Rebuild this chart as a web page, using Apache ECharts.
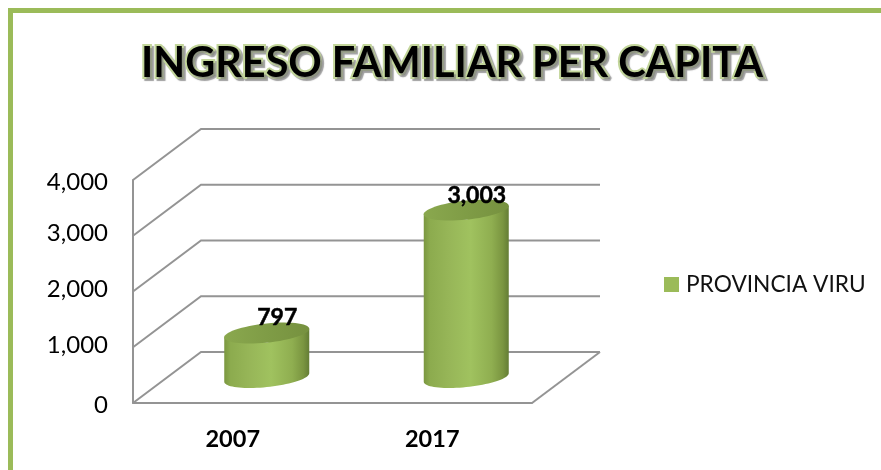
<!DOCTYPE html>
<html><head><meta charset="utf-8">
<style>html,body{margin:0;padding:0;background:#fff}#c{width:881px;height:470px}</style>
<script src="https://cdn.jsdelivr.net/npm/echarts@6/dist/echarts.min.js"></script>
</head><body><div id="c"></div>
<script>
const titleText = 'INGRESO FAMILIAR PER CAPITA';
const seriesName = 'PROVINCIA VIRU';
const categories = ['2007', '2017'];
const values = [797, 3003];
const valueTicks = [0, 1000, 2000, 3000, 4000];
const tickLabels = ['0', '1,000', '2,000', '3,000', '4,000'];
const valueLabels = ['797', '3,003'];

const FONT = 'Lato, "Open Sans", sans-serif';
const DX = 68, DY = -51;
const LINE = '#949494';
const chart = echarts.init(document.getElementById('c'), null, {renderer: 'canvas'});

function wallRender(params, api) {
  const p = api.coord([0, api.value(0)]);
  const cs = params.coordSys;
  const x0 = cs.x, w = cs.width, y = p[1];
  const style = {stroke: LINE, lineWidth: 2, fill: null};
  const children = [{
    type: 'polyline',
    shape: {points: [[x0, y], [x0 + DX, y + DY], [x0 + w + DX, y + DY]]},
    style
  }];
  if (params.dataIndex === 0) {
    children.push({
      type: 'line',
      shape: {x1: x0 + w, y1: y, x2: x0 + w + DX, y2: y + DY},
      style
    });
  }
  return {type: 'group', children};
}

function ellipsePts(cx, cy, rx, ry, slope, t0, t1, n) {
  const pts = [];
  for (let i = 0; i <= n; i++) {
    const t = t0 + (t1 - t0) * i / n;
    const c = Math.cos(t), s = Math.sin(t);
    pts.push([cx + rx * c, cy - slope * rx * c + ry * s]);
  }
  return pts;
}

function cylRender(params, api) {
  const i = api.value(0), v = api.value(1);
  const b = api.coord([i, 0]), t = api.coord([i, v]);
  const cx = b[0] + DX / 2, by = b[1] + DY / 2, ty = t[1] + DY / 2;
  const rx = 42.5, ry = 9.6, sl = 0.1;
  const body = ellipsePts(cx, by, rx, ry, sl, Math.PI, 0, 40)
    .concat(ellipsePts(cx, ty, rx, ry, sl, 0, Math.PI, 2));
  const top = ellipsePts(cx, ty, rx, ry, sl, 0, Math.PI * 2, 60);
  return {
    type: 'group',
    children: [
      {
        type: 'polygon', shape: {points: body},
        style: {
          fill: new echarts.graphic.LinearGradient(0, 0, 1, 0, [
            {offset: 0, color: '#7b9740'},
            {offset: 0.07, color: '#8cab4e'},
            {offset: 0.3, color: '#97b658'},
            {offset: 0.55, color: '#a0c25f'},
            {offset: 0.8, color: '#8fae50'},
            {offset: 0.93, color: '#7a9540'},
            {offset: 1, color: '#647d35'}
          ])
        }
      },
      {
        type: 'polygon', shape: {points: top},
        style: {
          fill: new echarts.graphic.LinearGradient(0, 0, 1, 0, [
            {offset: 0, color: '#8aa84e'},
            {offset: 0.5, color: '#7f9c46'},
            {offset: 1, color: '#76913f'}
          ])
        }
      },
      {
        type: 'text',
        style: {
          x: cx + 10.5, y: ty - 15, text: valueLabels[params.dataIndex],
          align: 'center', verticalAlign: 'middle', fill: '#000',
          stroke: '#000', lineWidth: 0.5,
          font: 'bold 23px ' + FONT
        }
      }
    ]
  };
}

chart.setOption({
  animation: false,
  backgroundColor: '#fff',
  title: {
    text: titleText, left: 141, top: 43, padding: 0,
    textStyle: {
      fontFamily: FONT, fontSize: 41.4, fontWeight: 'bold', color: '#000',
      textBorderColor: '#c3d69b', textBorderWidth: 4,
      textShadowColor: 'rgba(120,120,120,0.7)', textShadowBlur: 1,
      textShadowOffsetX: 2, textShadowOffsetY: 2
    }
  },
  legend: {
    left: 664, top: 273, padding: 0, itemWidth: 15, itemHeight: 15, itemGap: 0,
    data: [{name: seriesName, icon: 'rect', itemStyle: {color: '#9bbb59'}}],
    textStyle: {fontFamily: FONT, fontSize: 22.7, color: '#111', padding: [0, 0, 0, 2]}
  },
  grid: {left: 133, top: 180, width: 399, height: 223, containLabel: false},
  xAxis: {
    type: 'category', data: categories,
    axisLine: {lineStyle: {color: LINE, width: 2}},
    axisTick: {show: false},
    axisLabel: {margin: 24, fontFamily: FONT, fontSize: 23.5, fontWeight: 'bold', color: '#000'}
  },
  yAxis: {
    type: 'value', min: 0, max: 4000, interval: 1000,
    axisLine: {show: true, lineStyle: {color: LINE, width: 2}},
    axisTick: {show: false},
    splitLine: {show: false},
    axisLabel: {
      margin: 25, fontFamily: FONT, fontSize: 24, color: '#000',
      formatter: (v) => {
        const s = tickLabels[valueTicks.indexOf(v)];
        return (v === 0 || v === 4000) ? '{a|' + s + '}' : '{b|' + s + '}';
      },
      rich: {
        a: {fontFamily: FONT, fontSize: 24, color: '#000', padding: [4, 0, 0, 0]},
        b: {fontFamily: FONT, fontSize: 24, color: '#000', padding: [0, 0, 4, 0]}
      }
    }
  },
  series: [
    {
      type: 'custom', name: 'walls', coordinateSystem: 'cartesian2d', z: 1, silent: true,
      data: valueTicks.map(v => [v]), encode: {y: 0}, renderItem: wallRender, clip: false
    },
    {
      type: 'custom', name: seriesName, coordinateSystem: 'cartesian2d', z: 3,
      itemStyle: {color: '#9bbb59'},
      data: values.map((v, i) => [i, v]), encode: {x: 0, y: 1}, renderItem: cylRender, clip: false
    }
  ],
  graphic: [
    {type: 'rect', shape: {x: 8, y: 8, width: 873, height: 5}, style: {fill: '#9bbb59'}},
    {type: 'rect', shape: {x: 8, y: 8, width: 5, height: 462}, style: {fill: '#9bbb59'}}
  ]
});
</script></body></html>
